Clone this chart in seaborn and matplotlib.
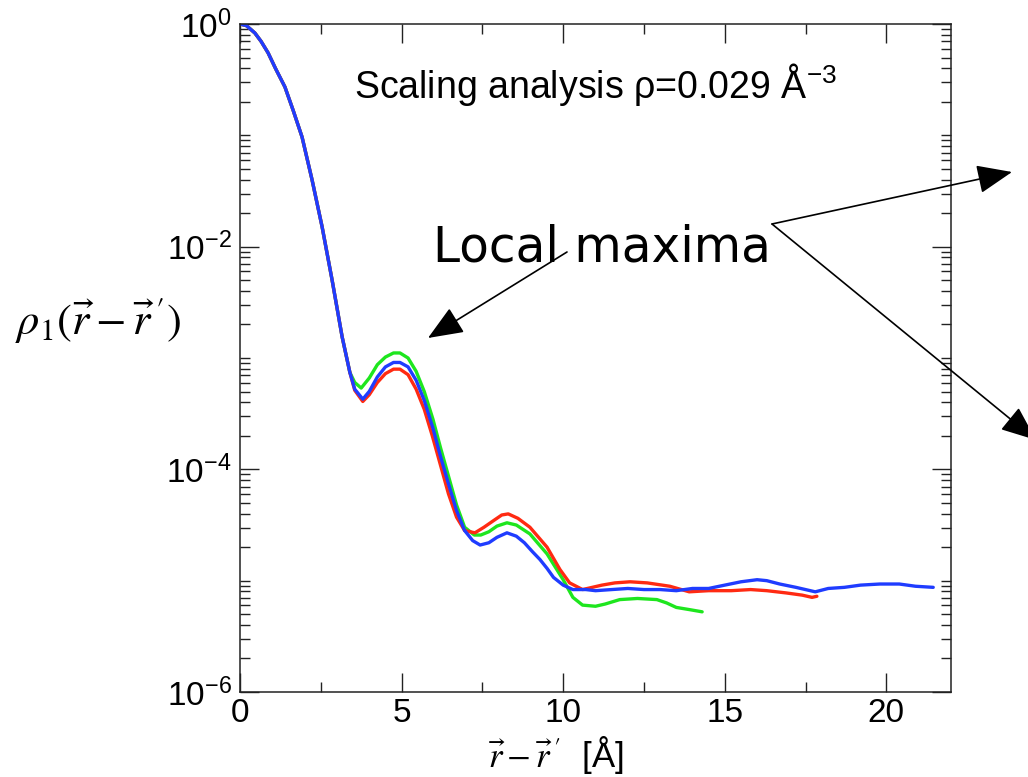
import matplotlib
matplotlib.use("Agg")
import matplotlib.pyplot as plt
from matplotlib import ticker
import numpy as np
import pandas as pd
import seaborn as sns

# One-body density matrix tails for three system sizes (r in Å)
r_green = [0.0, 0.2, 0.46, 0.65, 0.87, 1.1, 1.39, 1.65, 1.92, 2.23, 2.54, 2.85, 3.16,
           3.40, 3.55, 3.75, 4.0, 4.25, 4.5, 4.75, 4.95, 5.2, 5.45, 5.7, 5.97, 6.2,
           6.45, 6.7, 6.95, 7.25, 7.45, 7.7, 7.95, 8.26, 8.55, 8.97, 9.5, 10.0, 10.3,
           10.6, 11.0, 11.3, 11.75, 12.3, 12.9, 13.2, 13.5, 13.9, 14.3]
rho_green = [1.0, 0.966, 0.830, 0.700, 0.550, 0.398, 0.272, 0.166, 0.0966, 0.0398,
             0.0151, 5.01e-3, 1.55e-3, 7.41e-4, 6.03e-4, 5.37e-4, 6.61e-4, 8.71e-4,
             1.02e-3, 1.11e-3, 1.11e-3, 1.0e-3, 7.59e-4, 5.01e-4, 2.82e-4, 1.58e-4,
             8.71e-5, 4.79e-5, 3.02e-5, 2.57e-5, 2.57e-5, 2.75e-5, 3.09e-5, 3.31e-5,
             3.16e-5, 2.63e-5, 1.74e-5, 1.02e-5, 7.08e-6, 6.03e-6, 5.89e-6, 6.17e-6,
             6.76e-6, 6.92e-6, 6.76e-6, 6.31e-6, 5.75e-6, 5.50e-6, 5.25e-6]

r_red = [0.0, 0.2, 0.46, 0.65, 0.87, 1.1, 1.39, 1.65, 1.92, 2.23, 2.54, 2.85, 3.16,
         3.40, 3.55, 3.8, 4.0, 4.25, 4.5, 4.75, 4.95, 5.2, 5.45, 5.7, 5.95, 6.2, 6.45,
         6.7, 6.95, 7.27, 7.55, 7.85, 8.1, 8.3, 8.6, 8.97, 9.5, 9.9, 10.2, 10.6, 11.2,
         11.6, 12.07, 12.6, 13.3, 13.9, 14.5, 15.2, 15.8, 16.3, 16.9, 17.4, 17.7, 17.85]
rho_red = [1.0, 0.966, 0.830, 0.700, 0.550, 0.398, 0.272, 0.166, 0.0966, 0.0398,
           0.0151, 5.01e-3, 1.55e-3, 7.41e-4, 5.13e-4, 4.07e-4, 4.68e-4, 6.03e-4,
           7.24e-4, 7.94e-4, 7.94e-4, 7.08e-4, 5.25e-4, 3.47e-4, 2.0e-4, 1.10e-4,
           6.03e-5, 3.72e-5, 2.82e-5, 2.69e-5, 3.02e-5, 3.47e-5, 3.89e-5, 3.98e-5,
           3.63e-5, 3.02e-5, 2.0e-5, 1.26e-5, 9.55e-6, 8.32e-6, 9.12e-6, 9.55e-6,
           9.77e-6, 9.55e-6, 8.91e-6, 7.94e-6, 8.13e-6, 8.13e-6, 8.32e-6, 8.13e-6,
           7.76e-6, 7.41e-6, 7.08e-6, 7.24e-6]

r_blue = [0.0, 0.2, 0.46, 0.65, 0.87, 1.1, 1.39, 1.65, 1.92, 2.23, 2.54, 2.85, 3.16,
          3.40, 3.55, 3.8, 4.0, 4.25, 4.5, 4.75, 4.95, 5.2, 5.45, 5.7, 5.97, 6.2, 6.45,
          6.7, 6.95, 7.2, 7.43, 7.7, 7.95, 8.26, 8.55, 8.8, 9.05, 9.28, 9.5, 9.7, 10.0,
          10.3, 10.7, 11.0, 11.5, 12.0, 12.5, 13.0, 13.5, 14.0, 14.5, 15.0, 15.5,
          16.0, 16.3, 16.7, 17.2, 17.8, 18.2, 18.7, 19.2, 19.8, 20.4, 20.9, 21.45]
rho_blue = [1.0, 0.966, 0.830, 0.700, 0.550, 0.398, 0.272, 0.166, 0.0966, 0.0398,
            0.0151, 5.01e-3, 1.55e-3, 7.41e-4, 5.25e-4, 4.27e-4, 5.01e-4, 6.76e-4,
            8.32e-4, 9.12e-4, 9.12e-4, 8.32e-4, 6.31e-4, 4.17e-4, 2.34e-4, 1.32e-4,
            7.41e-5, 4.27e-5, 2.82e-5, 2.29e-5, 2.09e-5, 2.19e-5, 2.45e-5, 2.69e-5,
            2.51e-5, 2.19e-5, 1.82e-5, 1.55e-5, 1.29e-5, 1.07e-5, 9.12e-6, 8.32e-6,
            8.32e-6, 8.13e-6, 8.32e-6, 8.51e-6, 8.32e-6, 8.32e-6, 8.13e-6, 8.51e-6,
            8.51e-6, 9.12e-6, 9.77e-6, 1.02e-5, 1.0e-5, 9.33e-6, 8.71e-6, 7.94e-6,
            8.51e-6, 8.71e-6, 9.12e-6, 9.33e-6, 9.33e-6, 8.91e-6, 8.71e-6]

series_names = ["green", "red", "blue"]
series_colors = {"green": "#1ee61e", "red": "#ff2a12", "blue": "#1f3cff"}

x_ticks = [0, 5, 10, 15, 20]
y_ticks = [1e-6, 1e-4, 1e-2, 1e0]
y_tick_labels = [r"$\mathregular{10^{-6}}$", r"$\mathregular{10^{-4}}$",
                 r"$\mathregular{10^{-2}}$", r"$\mathregular{10^{0}}$"]

frames = []
for name, r, rho in [("green", r_green, rho_green),
                     ("red", r_red, rho_red),
                     ("blue", r_blue, rho_blue)]:
    frames.append(pd.DataFrame({"r": r, "rho": rho, "series": name}))
df = pd.concat(frames, ignore_index=True)

sns.set_style("white")
plt.rcParams["font.family"] = ["Liberation Sans", "DejaVu Sans"]
plt.rcParams["text.color"] = "black"
plt.rcParams["xtick.color"] = "black"
plt.rcParams["ytick.color"] = "black"
plt.rcParams["mathtext.fontset"] = "custom"
plt.rcParams["mathtext.rm"] = "Liberation Sans"
plt.rcParams["mathtext.it"] = "Liberation Sans:italic"
plt.rcParams["mathtext.bf"] = "Liberation Sans:bold"

W, H = 1028, 777
fig = plt.figure(figsize=(W / 100, H / 100), dpi=100)
ax = fig.add_axes([240 / W, 1 - 692 / H, (951 - 240) / W, (692 - 24) / H])

sns.lineplot(data=df, x="r", y="rho", hue="series", hue_order=series_names,
             palette=series_colors, estimator=None, sort=False, legend=False,
             linewidth=2.4, ax=ax)

ax.set_yscale("log")
ax.set_xlim(0, 22)
ax.set_ylim(1e-6, 1e0)
ax.set_xlabel("")
ax.set_ylabel("")

ax.xaxis.set_major_locator(ticker.FixedLocator(x_ticks))
ax.xaxis.set_minor_locator(ticker.MultipleLocator(2.5))
ax.yaxis.set_major_locator(ticker.FixedLocator(y_ticks))
ax.yaxis.set_major_formatter(ticker.FixedFormatter(y_tick_labels))
ax.yaxis.set_minor_locator(ticker.LogLocator(base=10, subs=np.arange(1, 10), numticks=30))
ax.yaxis.set_minor_formatter(ticker.NullFormatter())

for s in ax.spines.values():
    s.set_visible(True)
    s.set_linewidth(1.1)
    s.set_color("#222222")

ax.tick_params(which="both", direction="in", top=True, right=True,
               bottom=True, left=True, color="#222222", width=1.0)
ax.tick_params(which="major", length=13.5, labelsize=24, pad=6, labelcolor="black")
ax.tick_params(axis="x", which="major", pad=4)
ax.tick_params(which="minor", length=7)

# annotations
fig.text(354 / W, 1 - 98 / H, r"Scaling analysis ρ=0.029 Å$^{\mathregular{-3}}$",
         fontsize=27, va="baseline", ha="left", color="black")

fig.text(433 / W, 1 - 262 / H, "Local maxima", fontsize=35,
         family=["DejaVu Sans"], va="baseline", ha="left", color="black")

arrow_kw = dict(arrowstyle="-|>,head_length=1.1,head_width=0.45", color="black",
                lw=1.2, mutation_scale=20, shrinkA=0, shrinkB=0)
for (x0, y0), (x1, y1) in [((567, 252), (428, 338)),
                           ((772, 224), (1012, 172)),
                           ((772, 224), (1036, 440))]:
    ax.annotate("", xy=(x1, H - y1), xycoords="figure pixels",
                xytext=(x0, H - y0), textcoords="figure pixels",
                arrowprops=arrow_kw, annotation_clip=False)

fig.text(15 / W, 1 - 320 / H, r"$\rho_1(\vec{r}-\vec{r}\,')$", fontsize=32,
         math_fontfamily="stix", va="center", ha="left", color="black")

fig.text(556 / W, 0.5 / H, r"$\vec{r}-\vec{r}\,'$  [Å]", fontsize=25,
         math_fontfamily="stix", va="bottom", ha="center", color="black")

fig.savefig("out.png", dpi=100)
